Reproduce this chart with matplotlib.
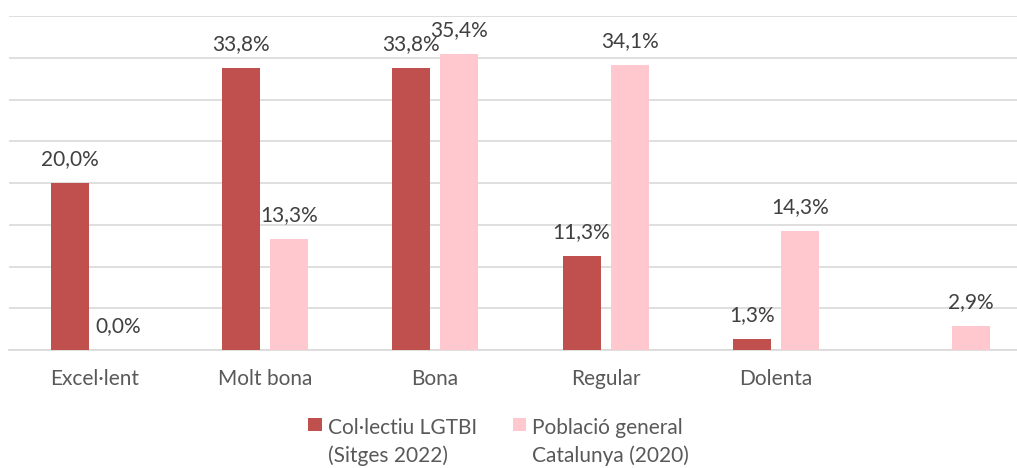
import numpy as np
import matplotlib.pyplot as plt
from matplotlib.patches import Rectangle
from matplotlib.container import BarContainer
from matplotlib.legend_handler import HandlerPatch

plt.rcParams['font.family'] = ['Lato', 'DejaVu Sans']

categories = ['Excel·lent', 'Molt bona', 'Bona', 'Regular', 'Dolenta', '']
lgtbi = [20.0, 33.8, 33.8, 11.3, 1.3, np.nan]
poblacio = [0.0, 13.3, 35.4, 34.1, 14.3, 2.9]
series_names = ['Col·lectiu LGTBI\n(Sitges 2022)', 'Població general\nCatalunya (2020)']

red = '#C0504D'
pink = '#FFC7CE'
fs = 15

fig = plt.figure(figsize=(10.17, 4.68), dpi=100)
ax = fig.add_axes([9 / 1017, 118 / 468, 1 - 9 / 1017, (350 - 16) / 468])

x = np.arange(len(categories))
w = 0.223
off = 0.141

b1 = ax.bar(x - off, lgtbi, w, color=red, label=series_names[0], zorder=3)
b2 = ax.bar(x + off, poblacio, w, color=pink, label=series_names[1], zorder=3)

for bars, vals in ((b1, lgtbi), (b2, poblacio)):
    for rect, v in zip(bars, vals):
        if np.isnan(v):
            continue
        ax.annotate(f'{v:.1f}%'.replace('.', ','),
                    (rect.get_x() + rect.get_width() / 2, v),
                    xytext=(0, 10), textcoords='offset points',
                    ha='center', va='bottom', fontsize=fs, color='#404040')

ax.set_ylim(0, 40)
ax.set_xlim(-0.5, 5.413)
ax.set_yticks(np.arange(0, 41, 5))
ax.yaxis.grid(True, color='#D9D9D9', linewidth=1.2, zorder=0)
ax.set_yticklabels([])
ax.tick_params(axis='both', length=0)
ax.set_xticks(x)
ax.set_xticklabels(categories, fontsize=fs, color='#595959')
ax.tick_params(axis='x', pad=14)
for s in ['top', 'right', 'left']:
    ax.spines[s].set_visible(False)
ax.spines['bottom'].set_color('#D9D9D9')
ax.spines['bottom'].set_linewidth(1.2)


# square marker sits next to the first line of the two-line label
def top_square(legend, orig_handle, xdescent, ydescent, width, height, fontsize):
    s = 0.65 * fontsize
    return Rectangle((width - s - xdescent, 0.88 * fontsize - ydescent), s, s)


def first_child(legend_handle, orig_handle):
    legend_handle.update_from(orig_handle[0])


leg = fig.legend(loc='lower center', bbox_to_anchor=(0.49, -0.035), ncol=2, frameon=False,
                 fontsize=fs, handlelength=0.7, handleheight=0.7, handletextpad=0.3,
                 columnspacing=1.65, labelcolor='#595959',
                 handler_map={BarContainer: HandlerPatch(patch_func=top_square,
                                                         update_func=first_child)})
for t in leg.get_texts():
    t.set_linespacing(1.45)

fig.savefig('out.png', dpi=100)
